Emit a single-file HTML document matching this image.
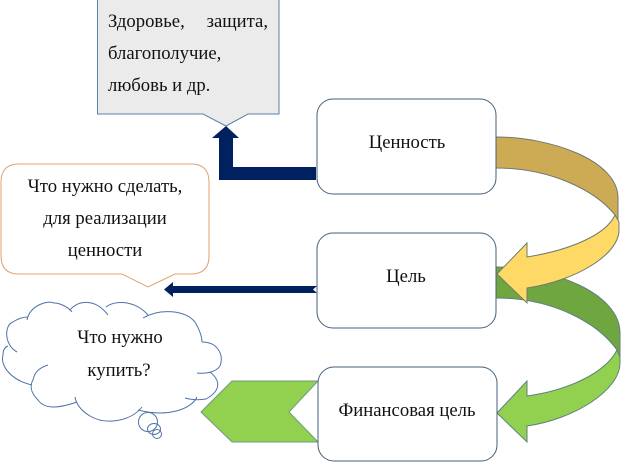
<!DOCTYPE html>
<html><head><meta charset="utf-8"><style>
html,body{margin:0;padding:0;background:#fff;width:633px;height:469px;overflow:hidden}
svg{display:block;filter:blur(0.3px)}
text{font-family:"Liberation Serif","Noto Serif CJK SC",serif;font-size:18.7px;fill:#111}
</style></head><body>
<svg width="633" height="469" viewBox="0 0 633 469" xmlns="http://www.w3.org/2000/svg">
<!-- grey callout -->
<path d="M97.5,-2 H279 V114 H248 L226,126 L203,114 H97.5 Z" fill="#ebebeb" stroke="#5b83a8" stroke-width="1"/>
<!-- bent arrow -->
<path d="M226,126 L239,138 H233 V167 H316 V180 H219 V138 H212 Z" fill="#00205f"/>
<!-- orange callout -->
<path d="M19,164 H191 Q209,164 209,182 V256 Q209,274 191,274 H175 L148,287 L122,274 H19 Q1,274 1,256 V182 Q1,164 19,164 Z" fill="#fff" stroke="#e3a06e" stroke-width="1"/>
<!-- thin arrow -->
<path d="M164,289.5 L173,282 V286 H317 L313,289.5 L317,293 H173 V297 Z" fill="#00205f"/>
<!-- green curved arrow -->
<path d="M496,267 C552,267 620,293 620,333 V357 L617,350 C597,322 552,298 496,298 Z" fill="#70a640" stroke="#5f7f80" stroke-width="1"/>
<path d="M617,350 L620,357 V363 C620,390 575,419 527,426 V442 L497,413 L527,381 V396 C570,390 606,372 617,350 Z" fill="#92d050" stroke="#5f7f80" stroke-width="1"/>
<!-- gold curved arrow -->
<path d="M496,137 C550,137 618,160 618,198 V222 L615,215 C595,190 550,168 496,168 Z" fill="#cdab55" stroke="#6f7a70" stroke-width="1"/>
<path d="M615,215 L619,222 V230 C619,255 575,281 527,288 V303 L497,274 L527,243 V257 C570,250 606,235 615,215 Z" fill="#ffd966" stroke="#6f7a70" stroke-width="1"/>
<!-- pentagon -->
<path d="M201,412 L232,381 H318 L289,412 L318,442 H232 Z" fill="#92d050" stroke="#6f9a80" stroke-width="1"/>
<!-- boxes -->
<rect x="317" y="99" width="179" height="95" rx="16" fill="#fff" stroke="#44607c" stroke-width="1"/>
<rect x="317" y="233" width="179" height="95" rx="16" fill="#fff" stroke="#44607c" stroke-width="1"/>
<rect x="318" y="367" width="179" height="94" rx="16" fill="#fff" stroke="#44607c" stroke-width="1"/>
<!-- cloud -->
<g fill="none" stroke="#4f72a8" stroke-width="1">
<path d="M32,385 C10,380 0,365 3,355 C3,350 5,347 8,346"/>
<path d="M17,352 C4,345 4,325 13,322 C16,320 22,317 28,317"/>
<path d="M27,320 C30,305 48,300 54,303 C60,303 68,307 72,312"/>
<path d="M70,310 C78,300 95,298 108,315"/>
<path d="M106,307 C115,300 135,300 148,315"/>
<path d="M143,318 C160,308 185,310 195,322 C200,330 202,338 202,342"/>
<path d="M202,342 C218,342 224,355 220,366 C216,372 206,374 197,373"/>
<path d="M210,372 C220,380 222,390 206,399 C200,400 192,400 185,398"/>
<path d="M197,397 C192,408 170,418 138,410"/>
<path d="M142,407 C130,422 105,425 90,416 C80,410 76,403 75,397"/>
<path d="M77,402 C60,408 45,410 38,400 C30,392 30,385 33,380 C35,370 42,367 48,365"/>
<circle cx="148" cy="422" r="9.5"/>
<ellipse cx="154" cy="429" rx="6.5" ry="5.5"/>
<circle cx="157" cy="434" r="4.5"/>
</g>
<!-- text -->
<text x="108" y="27">Здоровье,</text>
<text x="268" y="27" text-anchor="end">защита,</text>
<text x="108" y="59">благополучие,</text>
<text x="108" y="91">любовь и др.</text>
<text x="105" y="192" text-anchor="middle">Что нужно сделать,</text>
<text x="105" y="224" text-anchor="middle">для реализации</text>
<text x="105" y="256" text-anchor="middle">ценности</text>
<text x="120" y="343" text-anchor="middle">Что нужно</text>
<text x="119" y="376" text-anchor="middle">купить?</text>
<text x="407" y="148" text-anchor="middle">Ценность</text>
<text x="406" y="282" text-anchor="middle">Цель</text>
<text x="407" y="416" text-anchor="middle">Финансовая цель</text>
</svg>
</body></html>
